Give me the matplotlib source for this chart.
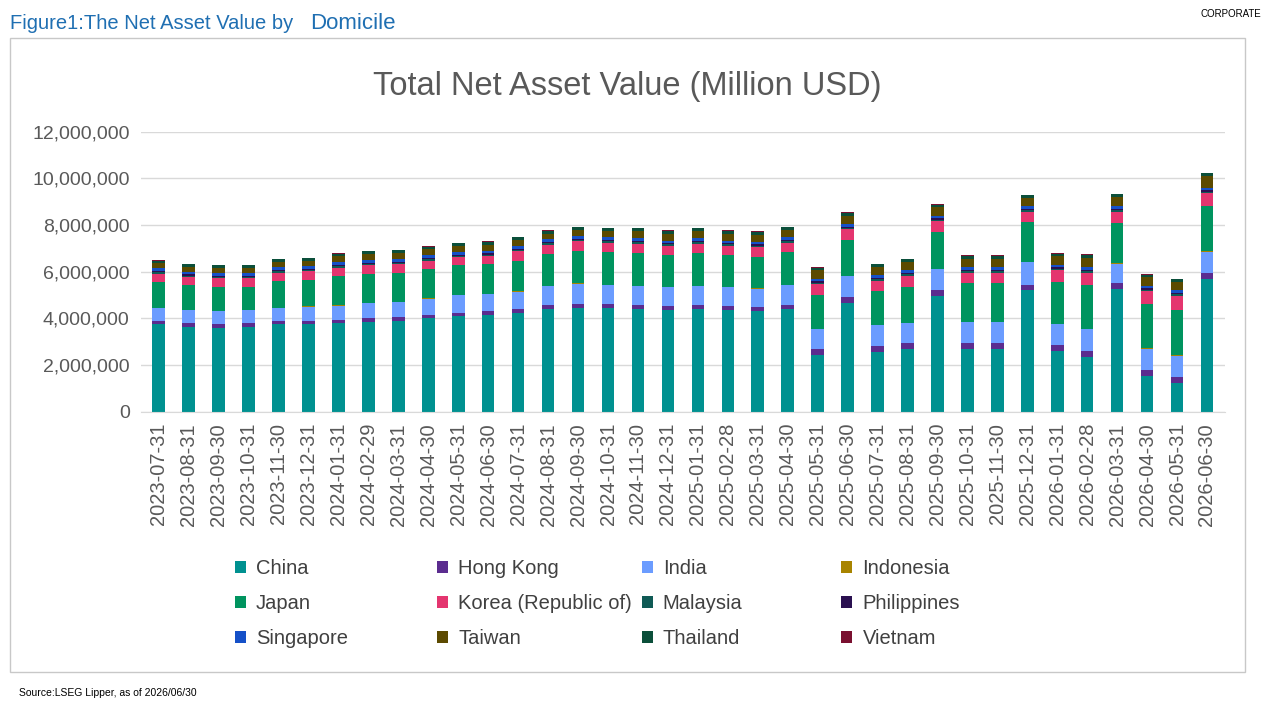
import matplotlib.pyplot as plt
import matplotlib.patches as mpatches
import numpy as np

plt.rcParams['font.family'] = ['Liberation Sans', 'DejaVu Sans']

dates = ["2023-07-31", "2023-08-31", "2023-09-30", "2023-10-31", "2023-11-30", "2023-12-31",
         "2024-01-31", "2024-02-29", "2024-03-31", "2024-04-30", "2024-05-31", "2024-06-30",
         "2024-07-31", "2024-08-31", "2024-09-30", "2024-10-31", "2024-11-30", "2024-12-31",
         "2025-01-31", "2025-02-28", "2025-03-31", "2025-04-30", "2025-05-31", "2025-06-30",
         "2025-07-31", "2025-08-31", "2025-09-30", "2025-10-31", "2025-11-30", "2025-12-31",
         "2026-01-31", "2026-02-28", "2026-03-31", "2026-04-30", "2026-05-31", "2026-06-30"]

# values in millions of "Million USD" (chart units / 1e6)
china = [3.75, 3.65, 3.6, 3.65, 3.75, 3.75, 3.8, 3.85, 3.9, 4.0, 4.1, 4.15, 4.25, 4.4, 4.45, 4.45, 4.4, 4.35,
         4.4, 4.35, 4.3, 4.4, 2.45, 4.65, 2.55, 2.7, 4.95, 2.7, 2.7, 5.2, 2.6, 2.35, 5.25, 1.55, 1.25, 5.7]
hong_kong = [0.15] * 13 + [0.18] * 9 + [0.25] * 14
india = [0.55, 0.55, 0.55, 0.55, 0.55, 0.6, 0.6, 0.65, 0.65, 0.7, 0.75, 0.75, 0.75,
         0.8, 0.85, 0.8, 0.8, 0.8, 0.8, 0.8, 0.8, 0.85,
         0.85, 0.9, 0.9, 0.85, 0.9, 0.9, 0.9, 0.95, 0.9, 0.95, 0.85, 0.9, 0.9, 0.9]
indonesia = [0.02] * 36
japan = [1.1, 1.05, 1.05, 1.0, 1.15, 1.15, 1.25, 1.25, 1.25, 1.25, 1.25, 1.25, 1.3, 1.35, 1.4, 1.4, 1.4, 1.35,
         1.4, 1.35, 1.35, 1.4, 1.45, 1.55, 1.45, 1.55, 1.6, 1.65, 1.65, 1.7, 1.8, 1.85, 1.7, 1.9, 1.95, 1.95]
korea = [0.35] * 12 + [0.4] * 10 + [0.45] * 8 + [0.5, 0.55, 0.5, 0.55, 0.6, 0.55]
malaysia = [0.07] * 36
philippines = [0.05] * 36
singapore = [0.12] * 36
taiwan = [0.2] * 6 + [0.25] * 10 + [0.3] * 6 + [0.35] * 8 + [0.35, 0.4, 0.4, 0.35, 0.35, 0.5]
thailand = [0.12] * 36
vietnam = [0.02] * 36

names = ["China", "Hong Kong", "India", "Indonesia", "Japan", "Korea (Republic of)", "Malaysia",
         "Philippines", "Singapore", "Taiwan", "Thailand", "Vietnam"]
series = [china, hong_kong, india, indonesia, japan, korea, malaysia, philippines, singapore,
          taiwan, thailand, vietnam]
colors = ["#009190", "#5B2C8F", "#6B9CFF", "#A88400", "#00945F", "#E4356F", "#0F5A55",
          "#2A1050", "#1550C8", "#5C4A00", "#0B4F3A", "#7A1030"]

fig = plt.figure(figsize=(12.8, 7.2), dpi=100)
fig.text(0.008, 0.968, "Figure1:The Net Asset Value by", color="#1F6FB2", fontsize=14.5, va="center")
fig.text(0.2425, 0.968, "Domicile", color="#1F6FB2", fontsize=16, va="center")
fig.text(0.985, 0.98, "CORPORATE", fontsize=7, ha="right", va="center")
fig.text(0.015, 0.037, "Source:LSEG Lipper, as of 2026/06/30", fontsize=7.5, va="center")
fig.patches.append(mpatches.Rectangle((0.008, 0.067), 0.965, 0.88, transform=fig.transFigure,
                                      fill=False, edgecolor="#C8C8C8", lw=1))
fig.text(0.49, 0.88, "Total Net Asset Value (Million USD)", fontsize=23.5, color="#595959",
         ha="center", va="center")

ax = fig.add_axes([0.11, 0.428, 0.847, 0.389])
x = np.arange(len(dates))
bottom = np.zeros(len(dates))
handles = []
for name, vals, c in zip(names, series, colors):
    v = np.array(vals) * 1e6
    handles.append(ax.bar(x, v, 0.42, bottom=bottom, color=c, label=name))
    bottom += v

ax.set_xlim(-0.6, len(dates) - 0.4)
ax.set_ylim(0, 12e6)
ax.set_yticks(np.arange(0, 12.1e6, 2e6))
ax.set_yticklabels([f"{int(t):,}" for t in np.arange(0, 12.1e6, 2e6)], fontsize=14, color="#595959")
ax.set_xticks(x)
ax.set_xticklabels(dates, rotation=90, fontsize=14.5, color="#595959")
ax.yaxis.grid(True, color="#D9D9D9", lw=1)
ax.set_axisbelow(True)
for s in ["top", "right", "left"]:
    ax.spines[s].set_visible(False)
ax.spines["bottom"].set_color("#D9D9D9")
ax.tick_params(length=0, pad=8)

# one legend per column, columns at fixed spacing like the original
col_x = [0.177, 0.335, 0.495, 0.651]
for k, cx in enumerate(col_x):
    idx = [k, k + 4, k + 8]
    fig.legend([handles[i] for i in idx], [names[i] for i in idx], loc="upper left",
               bbox_to_anchor=(cx, 0.235), frameon=False, fontsize=14.5,
               handlelength=0.55, handleheight=0.55, labelcolor="#404040",
               handletextpad=0.5, labelspacing=0.8, borderaxespad=0)

fig.savefig("out.png")
